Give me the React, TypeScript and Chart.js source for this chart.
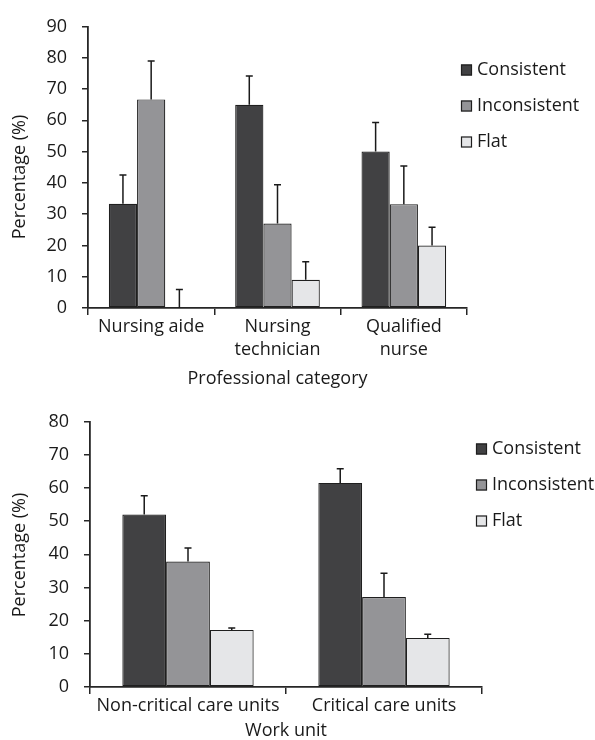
import React, { useEffect, useRef } from "react";
import { Chart, registerables } from "chart.js";

Chart.register(...registerables);

// ---------- data ----------
const seriesLabels = ["Consistent", "Inconsistent", "Flat"];
const seriesColors = ["#414143", "#949497", "#e5e6e8"];

const professionCategories = ["Nursing aide", ["Nursing", "technician"], ["Qualified", "nurse"]];
const professionConsistent = [33.3, 65.0, 50.0];
const professionConsistentErr = [9.2, 9.2, 9.3];
const professionInconsistent = [66.7, 27.0, 33.2];
const professionInconsistentErr = [12.3, 12.4, 12.2];
const professionFlat = [0, 9.0, 20.0];
const professionFlatErr = [5.9, 5.8, 5.8];
const professionYMax = 90;
const professionYStep = 10;

const unitCategories = ["Non-critical care units", "Critical care units"];
const unitConsistent = [52.0, 61.5];
const unitConsistentErr = [5.6, 4.3];
const unitInconsistent = [37.8, 27.1];
const unitInconsistentErr = [4.1, 7.2];
const unitFlat = [17.2, 14.8];
const unitFlatErr = [0.6, 1.1];
const unitYMax = 80;
const unitYStep = 10;

// ---------- styles ----------
const FONT = "'Open Sans', sans-serif";
const FONT_SIZE = 18;
const TEXT = "#1a1a1a";
const AXIS = "#262626";

const errorBarPlugin = {
  id: "errorBars",
  afterDatasetsDraw(chart: any) {
    const ctx = chart.ctx;
    const y = chart.scales.y;
    chart.data.datasets.forEach((ds: any, i: number) => {
      const meta = chart.getDatasetMeta(i);
      meta.data.forEach((bar: any, j: number) => {
        const v = ds.data[j];
        const e = ds.errors[j];
        const x = bar.x;
        const y0 = y.getPixelForValue(v);
        const y1 = y.getPixelForValue(v + e);
        ctx.save();
        ctx.strokeStyle = "#1a1a1a";
        ctx.lineWidth = 1.5;
        ctx.beginPath();
        ctx.moveTo(x, y0);
        ctx.lineTo(x, y1);
        ctx.moveTo(x - 3.5, y1);
        ctx.lineTo(x + 3.5, y1);
        ctx.stroke();
        ctx.restore();
      });
    });
  },
};

const boxLegendPlugin = {
  id: "boxLegend",
  afterDraw(chart: any, _args: any, opts: any) {
    const ctx = chart.ctx;
    ctx.save();
    ctx.font = `${FONT_SIZE}px ${FONT}`;
    ctx.textBaseline = "middle";
    ctx.textAlign = "left";
    chart.data.datasets.forEach((ds: any, i: number) => {
      const cy = opts.y + i * opts.spacing;
      ctx.fillStyle = ds.backgroundColor;
      ctx.fillRect(opts.x, cy - 5.5, 11, 11);
      ctx.strokeStyle = "#1f1f1f";
      ctx.lineWidth = 1.2;
      ctx.strokeRect(opts.x + 0.5, cy - 5, 10, 10);
      ctx.fillStyle = TEXT;
      ctx.fillText(ds.label, opts.x + 16, cy);
    });
    ctx.restore();
  },
};

const yTitlePlugin = {
  id: "yTitle",
  afterDraw(chart: any, _args: any, opts: any) {
    const ctx = chart.ctx;
    ctx.save();
    ctx.translate(opts.x, opts.y);
    ctx.rotate(-Math.PI / 2);
    ctx.font = `${FONT_SIZE}px ${FONT}`;
    ctx.fillStyle = TEXT;
    ctx.textAlign = "center";
    ctx.textBaseline = "middle";
    ctx.fillText(opts.text, 0, 0);
    ctx.restore();
  },
};

type PanelProps = {
  categories: (string | string[])[];
  values: number[][];
  errors: number[][];
  yMax: number;
  yStep: number;
  xTitle: string;
  yTitle: string;
  height: number;
  padTop: number;
  padRight: number;
  yWidth: number;
  xHeight: number;
  xTitlePad: number;
  yTitleX: number;
  yTitleY: number;
  legendX: number;
  legendY: number;
};

function BarPanel(p: PanelProps) {
  const ref = useRef<HTMLCanvasElement | null>(null);
  useEffect(() => {
    if (!ref.current) return;
    const font = { family: FONT, size: FONT_SIZE, lineHeight: 1.28 };
    const chart = new Chart(ref.current, {
      type: "bar",
      data: {
        labels: p.categories as any,
        datasets: seriesLabels.map((label, i) => ({
          label,
          data: p.values[i],
          errors: p.errors[i],
          backgroundColor: seriesColors[i],
          borderColor: "#1f1f1f",
          borderWidth: 1.2,
          borderSkipped: false,
          categoryPercentage: 0.67,
          barPercentage: 1,
        })) as any,
      },
      options: {
        responsive: false,
        animation: false,
        layout: { padding: { top: p.padTop, right: p.padRight, left: 0, bottom: 0 } },
        plugins: {
          legend: { display: false },
          tooltip: { enabled: false },
          boxLegend: { x: p.legendX, y: p.legendY, spacing: 36 },
          yTitle: { x: p.yTitleX, y: p.yTitleY, text: p.yTitle },
        } as any,
        scales: {
          x: {
            grid: {
              display: true,
              drawOnChartArea: false,
              drawTicks: true,
              tickLength: 7,
              color: AXIS,
              lineWidth: 1.5,
              offset: true,
            },
            border: { display: true, color: AXIS, width: 1.8 },
            ticks: { color: TEXT, font, padding: 0, maxRotation: 0, autoSkip: false },
            title: {
              display: true,
              text: p.xTitle,
              color: TEXT,
              font: { family: FONT, size: FONT_SIZE, lineHeight: 1.0 },
              padding: { top: 0, bottom: p.xTitlePad },
            },
            afterFit: (s: any) => {
              s.height = p.xHeight;
            },
          },
          y: {
            min: 0,
            max: p.yMax,
            grid: {
              display: true,
              drawOnChartArea: false,
              drawTicks: true,
              tickLength: 6,
              color: AXIS,
              lineWidth: 1.5,
            },
            border: { display: true, color: AXIS, width: 1.8 },
            ticks: { stepSize: p.yStep, color: TEXT, font, padding: 15 },
            afterFit: (s: any) => {
              s.width = p.yWidth;
            },
          },
        },
      },
      plugins: [errorBarPlugin, boxLegendPlugin, yTitlePlugin],
    });
    return () => chart.destroy();
  }, []);
  return (
    <div style={{ width: 595, height: p.height, position: "relative" }}>
      <canvas ref={ref} width={595} height={p.height} style={{ display: "block" }} />
    </div>
  );
}

export default function App() {
  return (
    <div style={{ position: "absolute", left: 0, top: 0, width: 595, height: 740, background: "#fff" }}>
      <BarPanel
        categories={professionCategories}
        values={[professionConsistent, professionInconsistent, professionFlat]}
        errors={[professionConsistentErr, professionInconsistentErr, professionFlatErr]}
        yMax={professionYMax}
        yStep={professionYStep}
        xTitle="Professional category"
        yTitle="Percentage (%)"
        height={395}
        padTop={23}
        padRight={128}
        yWidth={88}
        xHeight={87}
        xTitlePad={7}
        yTitleX={20}
        yTitleY={177}
        legendX={461}
        legendY={70}
      />
      <BarPanel
        categories={unitCategories}
        values={[unitConsistent, unitInconsistent, unitFlat]}
        errors={[unitConsistentErr, unitInconsistentErr, unitFlatErr]}
        yMax={unitYMax}
        yStep={unitYStep}
        xTitle="Work unit"
        yTitle="Percentage (%)"
        height={345}
        padTop={24}
        padRight={113}
        yWidth={90}
        xHeight={53}
        xTitlePad={0}
        yTitleX={20}
        yTitleY={160}
        legendX={476}
        legendY={54}
      />
    </div>
  );
}
